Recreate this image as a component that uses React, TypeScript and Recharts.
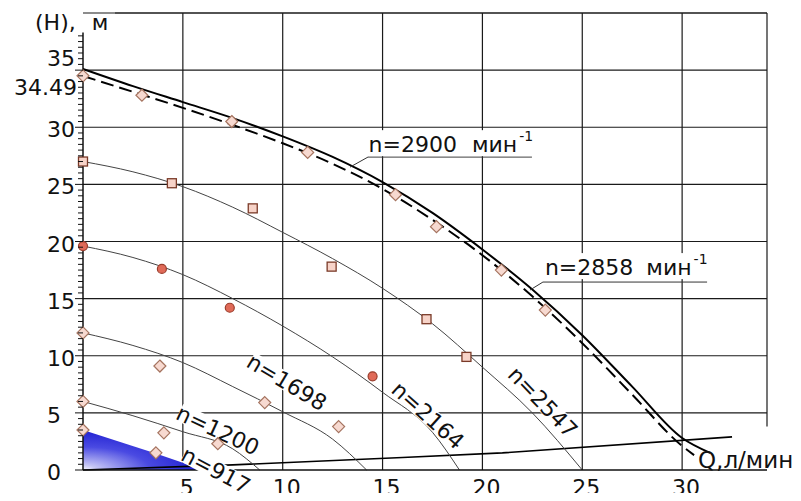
import React from "react"
import { ComposedChart, Line, Area, Scatter, XAxis, YAxis, CartesianGrid, ReferenceLine } from "recharts"

// напорные характеристики H(Q), Q в л/мин, H в м
const q2900 = [0, 2.5, 5, 7.5, 10, 12.5, 15, 17.5, 20, 22.5, 25, 27.5, 30, 31.4]
const h2900 = [35.1, 33.6, 32.2, 30.8, 29.2, 27.4, 25.2, 22.5, 19.3, 15.8, 11.8, 7.3, 2.8, 1.5]
const q2858 = [0, 2.5, 5, 7.5, 10, 12.5, 15, 17.5, 20, 22.5, 25, 27.5, 30, 30.6]
const h2858 = [34.49, 33.1, 31.7, 30.2, 28.6, 26.8, 24.6, 21.9, 18.8, 15.2, 11.1, 6.6, 2.1, 1.3]
const q2547 = [0, 2.5, 5, 7.5, 10, 12.5, 15, 17.5, 20, 22.5, 25]
const h2547 = [27.0, 26.1, 24.8, 23.0, 20.8, 18.5, 15.9, 12.8, 9.0, 5.0, 0]
const q2164 = [0, 2.5, 5, 7.5, 10, 12.5, 15, 17.5, 18.85]
const h2164 = [19.6, 18.6, 17.1, 15.0, 12.6, 9.9, 6.8, 3.3, 0]
const q1698 = [0, 2.5, 5, 7.5, 10, 12.5, 14.2]
const h1698 = [12.0, 10.9, 9.4, 7.3, 5.1, 2.7, 0]
const q1200 = [0, 2.5, 5, 7.5, 8.85]
const h1200 = [6.0, 4.75, 3.35, 1.85, 0]
const q917 = [0, 3.65, 5.8]
const h917 = [3.5, 1.45, 0.15]
// характеристика сети
const qNet = [0, 7.5, 16, 21, 32.5]
const hNet = [0, 0.45, 1.1, 1.5, 2.9]

// опытные точки
const qDiamTop = [0, 2.95, 7.45, 11.25, 15.65, 17.7, 20.95, 23.15]
const hDiamTop = [34.5, 32.8, 30.5, 27.8, 24.1, 21.3, 17.5, 14.0]
const qSquare = [0, 4.45, 8.5, 12.45, 17.2, 19.2]
const hSquare = [27.0, 25.1, 22.9, 17.8, 13.2, 9.9]
const qCircle = [0, 3.95, 7.35, 14.5]
const hCircle = [19.6, 17.6, 14.2, 8.2]
const qDiamLow = [0, 3.85, 9.1, 12.8, 0, 4.05, 6.75, 0, 3.65]
const hDiamLow = [12.0, 9.1, 5.9, 3.8, 6.0, 3.25, 2.3, 3.5, 1.5]

// подписи кривых
const curveNames = ["n=917", "n=1200", "n=1698", "n=2164", "n=2547"]
const nameQ = [6.66, 6.76, 10.21, 17.28, 23.03]
const nameH = [0.0, 3.5, 7.7, 4.81, 5.95]
const nameAngle = [28, 25, 31, 42, 46]

const xTicks = [0, 5, 10, 15, 20, 25, 30]
const yTicks = [...Array.from({ length: 77 }, (_, i) => i * 0.5), 34.49]
const gridH = [5, 10, 15, 20, 25, 30, 35, 40]
const gridV = [5, 10, 15, 20, 25, 30]

const rows = (qs: number[], hs: number[]) => qs.map((q, i) => ({ q, h: hs[i] }))

const FONT = "DejaVu Sans"
const INK = "#111"

function YTick(props: any) {
  const { x, y, payload } = props
  const v = payload.value
  if (v === 34.49)
    return (
      <text x={x - 6} y={y + 19} textAnchor="end" fontFamily={FONT} fontSize={22} fill={INK}>
        34.49
      </text>
    )
  const major = v % 5 === 0 && v <= 35
  return (
    <g>
      <line x1={x - (major ? 8 : 5)} x2={x} y1={y} y2={y} stroke={INK} strokeWidth={1} />
      {major && (
        <text x={x - 36} y={v === 35 ? y - 4 : y + 10} fontFamily={FONT} fontSize={22} fill={INK}>
          {v}
        </text>
      )}
    </g>
  )
}

function XTick(props: any) {
  const { x, payload } = props
  if (payload.value === 0) return null
  return (
    <text x={x + 4} y={495} textAnchor="middle" fontFamily={FONT} fontSize={22} fill={INK}>
      {payload.value}
    </text>
  )
}

const diamond = (p: any) => (
  <polygon
    points={`${p.cx},${p.cy - 6} ${p.cx + 6},${p.cy} ${p.cx},${p.cy + 6} ${p.cx - 6},${p.cy}`}
    fill="#f7d9d0"
    stroke="#a5735f"
    strokeWidth={1.2}
  />
)
const square = (p: any) => (
  <rect x={p.cx - 4.5} y={p.cy - 4.5} width={9} height={9} fill="#f7d3c8" stroke="#7a3a28" strokeWidth={1.3} />
)
const circle = (p: any) => <circle cx={p.cx} cy={p.cy} r={4.5} fill="#e06a58" stroke="#9a3d2c" strokeWidth={1.2} />

const rotLabel = (text: string, angle: number) => (p: any) => {
  const w = text.length * 13.5 + 4
  return (
    <g transform={`rotate(${angle}, ${p.cx}, ${p.cy})`}>
      <rect x={p.cx - w / 2} y={p.cy - 9} width={w} height={18} fill="#fff" />
      <text x={p.cx} y={p.cy + 8} textAnchor="middle" fontFamily={FONT} fontSize={22} fill={INK}>
        {text}
      </text>
    </g>
  )
}

const speedLabel = (main: string, gap: number) => (p: any) => (
  <g>
    <rect x={p.cx} y={p.cy - 22} width={168} height={26} fill="#fff" />
    <text x={p.cx} y={p.cy} fontFamily={FONT} fontSize={22} fill={INK}>
      <tspan>{main}</tspan>
      <tspan dx={gap}>мин</tspan>
      <tspan dx={2} dy={-11} fontSize={14}>-1</tspan>
    </text>
  </g>
)

export default function App() {
  return (
    <div style={{ margin: -8, width: 801, height: 501, background: "#fff" }}>
      <ComposedChart width={801} height={501} margin={{ top: 13, right: 34, bottom: 0, left: 0 }}>
        <defs>
          <radialGradient id="blueFill" cx="0" cy="1" r="1.05" fx="0" fy="1">
            <stop offset="0%" stopColor="#f6f6ff" />
            <stop offset="12%" stopColor="#c4c4f4" />
            <stop offset="55%" stopColor="#4a4ae2" />
            <stop offset="100%" stopColor="#1c1cd0" />
          </radialGradient>
        </defs>
        <CartesianGrid horizontalValues={gridH} verticalValues={gridV} stroke="#1a1a1a" strokeWidth={1.2} />
        <XAxis
          type="number"
          dataKey="q"
          domain={[0, 34.25]}
          ticks={xTicks}
          interval={0}
          height={31}
          tickSize={0}
          tickMargin={0}
          tickLine={false}
          tick={<XTick />}
          axisLine={{ stroke: INK, strokeWidth: 1.5 }}
          label={{
            content: () => (
              <text x={698} y={468} fontFamily={FONT} fontSize={23} fill={INK}>
                Q,л/мин
              </text>
            ),
          }}
        />
        <YAxis
          type="number"
          dataKey="h"
          domain={[0, 40]}
          ticks={yTicks}
          interval={0}
          width={83}
          tickSize={0}
          tickMargin={0}
          tickLine={false}
          axisLine={false}
          tick={<YTick />}
          label={{
            content: () => (
              <text x={35} y={30} fontFamily={FONT} fontSize={22} fill={INK}>
                (H),<tspan dx={16}>м</tspan>
              </text>
            ),
          }}
        />
        <ReferenceLine segment={[{ x: 0, y: 0 }, { x: 0, y: 38.3 }]} stroke={INK} strokeWidth={1.5} />
        <ReferenceLine segment={[{ x: 1.6, y: 40 }, { x: 34.25, y: 40 }]} stroke="#1a1a1a" strokeWidth={1.2} />
        <ReferenceLine segment={[{ x: 34.25, y: 40 }, { x: 34.25, y: 3.8 }]} stroke="#1a1a1a" strokeWidth={1.2} />

        <Area data={rows(q917, h917)} dataKey="h" type="linear" fill="url(#blueFill)" fillOpacity={1} stroke="none" baseValue={0} isAnimationActive={false} />
        <Line data={rows(qNet, hNet)} dataKey="h" type="linear" stroke="#000" strokeWidth={1.6} dot={false} isAnimationActive={false} />
        <Line data={rows(q1200, h1200)} dataKey="h" type="monotone" stroke="#444" strokeWidth={1} dot={false} isAnimationActive={false} />
        <Line data={rows(q1698, h1698)} dataKey="h" type="monotone" stroke="#444" strokeWidth={1} dot={false} isAnimationActive={false} />
        <Line data={rows(q2164, h2164)} dataKey="h" type="monotone" stroke="#444" strokeWidth={1} dot={false} isAnimationActive={false} />
        <Line data={rows(q2547, h2547)} dataKey="h" type="monotone" stroke="#444" strokeWidth={1} dot={false} isAnimationActive={false} />
        <Line data={rows(q2858, h2858)} dataKey="h" type="monotone" stroke="#000" strokeWidth={2} strokeDasharray="13 6" dot={false} isAnimationActive={false} />
        <Line data={rows(q2900, h2900)} dataKey="h" type="monotone" stroke="#000" strokeWidth={2} dot={false} isAnimationActive={false} />

        {curveNames.map((name, i) => (
          <Scatter
            key={name}
            data={[{ q: nameQ[i], h: nameH[i] }]}
            dataKey="h"
            shape={rotLabel(name, nameAngle[i])}
            isAnimationActive={false}
          />
        ))}
        <ReferenceLine segment={[{ x: 13.37, y: 26.51 }, { x: 14.27, y: 27.39 }]} stroke="#333" strokeWidth={1} />
        <ReferenceLine segment={[{ x: 14.27, y: 27.39 }, { x: 22.48, y: 27.39 }]} stroke="#333" strokeWidth={1} />
        <ReferenceLine segment={[{ x: 22.38, y: 15.75 }, { x: 23.03, y: 16.45 }]} stroke="#333" strokeWidth={1} />
        <ReferenceLine segment={[{ x: 23.03, y: 16.45 }, { x: 31.25, y: 16.45 }]} stroke="#333" strokeWidth={1} />
        <Scatter data={[{ q: 14.3, h: 27.82 }]} dataKey="h" shape={speedLabel("n=2900", 15)} isAnimationActive={false} />
        <Scatter data={[{ q: 23.13, h: 17.06 }]} dataKey="h" shape={speedLabel("n=2858", 13)} isAnimationActive={false} />

        <Scatter data={rows(qDiamTop, hDiamTop)} dataKey="h" shape={diamond} isAnimationActive={false} />
        <Scatter data={rows(qDiamLow, hDiamLow)} dataKey="h" shape={diamond} isAnimationActive={false} />
        <Scatter data={rows(qSquare, hSquare)} dataKey="h" shape={square} isAnimationActive={false} />
        <Scatter data={rows(qCircle, hCircle)} dataKey="h" shape={circle} isAnimationActive={false} />
      </ComposedChart>
    </div>
  )
}
